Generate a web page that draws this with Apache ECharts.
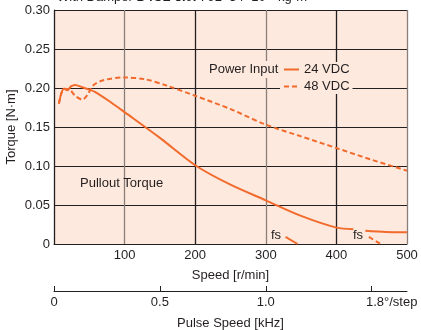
<!DOCTYPE html>
<html>
<head>
<meta charset="utf-8">
<script src="https://cdn.jsdelivr.net/npm/echarts@6/dist/echarts.min.js"></script>
<style>
html, body { margin: 0; padding: 0; background: #fff; }
#chart { width: 421px; height: 330px; }
</style>
</head>
<body>
<div id="chart"></div>
<script>
// values
const speedTicks = [0, 100, 200, 300, 400, 500]
const torqueTicks = [0, 0.05, 0.1, 0.15, 0.2, 0.25, 0.3]
const pulseTicks = [0, 0.5, 1.0, 1.5]
const pulseLabels = ['0', '0.5', '1.0', '1.8°/step']

// [speed r/min, torque N·m]
const torque24 = [
    [7, 0.180], [10, 0.192], [14, 0.199], [19, 0.197], [24, 0.202], [30, 0.204],
    [40, 0.201], [50, 0.198], [58, 0.195], [80, 0.182], [100, 0.169], [150, 0.136],
    [200, 0.101], [250, 0.076], [300, 0.056], [350, 0.036], [400, 0.021], [424, 0.019],
    [432, null],
    [441, 0.017], [470, 0.0155], [500, 0.015]
]
const torque48 = [
    [7, 0.180], [10, 0.192], [14, 0.199], [22, 0.198], [30, 0.190], [40, 0.185],
    [48, 0.192], [55, 0.203], [70, 0.210], [100, 0.2135], [130, 0.211], [160, 0.203],
    [200, 0.190], [250, 0.173], [300, 0.153], [350, 0.138], [400, 0.123], [450, 0.108],
    [500, 0.094]
]
const fs24 = [[328, 0.009], [345, 0]]
const fs48 = [[446, 0.009], [463, 0]]

const FONT = "'Liberation Sans', Arial, sans-serif"
const INK = '#231f20'
const BG = '#fde9dd'
const ORANGE = '#f26b2d'
const DASH = [5, 3]

const chart = echarts.init(document.getElementById('chart'))

const option = {
    animation: false,
    textStyle: { fontFamily: FONT, color: INK },
    grid: [
        { left: 54, right: 14, top: 10, bottom: 86, show: true, backgroundColor: BG, borderWidth: 0, outerBoundsMode: 'none' },
        { left: 54, right: 14, top: 290, height: 1, outerBoundsMode: 'none' }
    ],
    xAxis: [
        {
            type: 'value', gridIndex: 0,
            min: speedTicks[0], max: speedTicks[speedTicks.length - 1], interval: 100,
            name: 'Speed [r/min]', nameLocation: 'middle', nameGap: 25,
            nameTextStyle: { fontSize: 13, color: INK, fontFamily: FONT },
            axisLine: { lineStyle: { color: INK, width: 1 } },
            axisTick: { show: false },
            axisLabel: {
                fontSize: 13, color: INK, margin: 5, fontFamily: FONT,
                formatter: v => (v === 0 ? '' : String(v))
            },
            splitLine: { show: true, lineStyle: { color: [INK, '#8a7f7b'], width: 1.3 } }
        },
        {
            type: 'value', gridIndex: 1,
            min: 0, max: 500 / 300,
            name: 'Pulse Speed [kHz]', nameLocation: 'middle', nameGap: 26,
            nameTextStyle: { fontSize: 13, color: INK, fontFamily: FONT },
            axisLine: { lineStyle: { color: INK, width: 1 } },
            axisTick: { inside: true, length: 5, customValues: pulseTicks, lineStyle: { color: INK } },
            axisLabel: {
                fontSize: 13, color: INK, margin: 5, fontFamily: FONT,
                customValues: pulseTicks,
                formatter: v => {
                    const i = pulseTicks.findIndex(t => Math.abs(t - v) < 1e-6)
                    if (i === 3) return '{s|' + pulseLabels[i] + '}'
                    return i >= 0 ? pulseLabels[i] : ''
                },
                rich: { s: { fontSize: 13, color: INK, fontFamily: FONT, padding: [0, 0, 0, 40] } }
            },
            splitLine: { show: false }
        }
    ],
    yAxis: [
        {
            type: 'value', gridIndex: 0,
            min: torqueTicks[0], max: torqueTicks[torqueTicks.length - 1], interval: 0.05,
            name: 'Torque [N·m]', nameLocation: 'middle', nameGap: 36, nameMoveOverlap: false,
            nameTextStyle: { fontSize: 13, color: INK, fontFamily: FONT },
            axisLine: { show: true, lineStyle: { color: INK, width: 1 } },
            axisTick: { show: false },
            axisLabel: {
                fontSize: 13, color: INK, margin: 4, fontFamily: FONT,
                formatter: v => (v === 0 ? '0' : v.toFixed(2))
            },
            splitLine: { show: true, lineStyle: { color: INK, width: 1 } }
        },
        { type: 'value', gridIndex: 1, show: false }
    ],
    legend: {
        data: ['24 VDC', '48 VDC'],
        orient: 'vertical', left: 280, top: 62,
        itemWidth: 15, itemHeight: 10, itemGap: 4,
        backgroundColor: BG, padding: [1, 3, 1, 3],
        itemStyle: { opacity: 0 },
        textStyle: { fontSize: 13, color: INK, fontFamily: FONT },
        selectedMode: false
    },
    graphic: [
        {
            type: 'text', x: 57, y: -9, silent: true,
            style: {
                text: 'With Damper {b|D4CL-5.0F}: JL=34×10⁻⁷ kg·m²',
                fontSize: 13, fill: INK, fontFamily: FONT,
                rich: { b: { fontSize: 13, fontWeight: 'bold', fill: INK, fontFamily: FONT } }
            }
        },
        {
            type: 'text', x: 207, y: 61, silent: true, z: 10,
            style: {
                text: 'Power Input', fontSize: 13, fill: INK, fontFamily: FONT,
                backgroundColor: BG, padding: [2, 2, 2, 2]
            }
        },
        {
            type: 'text', x: 80, y: 177, silent: true, z: 10,
            style: { text: 'Pullout Torque', fontSize: 13, fill: INK, fontFamily: FONT }
        },
        {
            type: 'text', x: 271, y: 229, silent: true, z: 10,
            style: { text: 'fs', fontSize: 13, fill: INK, fontFamily: FONT }
        },
        {
            type: 'text', x: 353, y: 229, silent: true, z: 10,
            style: { text: 'fs', fontSize: 13, fill: INK, fontFamily: FONT }
        }
    ],
    series: [
        {
            name: '24 VDC', type: 'line', xAxisIndex: 0, yAxisIndex: 0,
            data: torque24, smooth: 0.3, symbol: 'none', connectNulls: false,
            lineStyle: { color: ORANGE, width: 2 }, itemStyle: { color: ORANGE }
        },
        {
            name: '48 VDC', type: 'line', xAxisIndex: 0, yAxisIndex: 0,
            data: torque48, smooth: 0.3, symbol: 'none',
            lineStyle: { color: ORANGE, width: 2, type: DASH }, itemStyle: { color: ORANGE }
        },
        {
            name: 'fs 24', type: 'line', xAxisIndex: 0, yAxisIndex: 0,
            data: fs24, symbol: 'none',
            lineStyle: { color: ORANGE, width: 2 }
        },
        {
            name: 'fs 48', type: 'line', xAxisIndex: 0, yAxisIndex: 0,
            data: fs48, symbol: 'none',
            lineStyle: { color: ORANGE, width: 2, type: DASH }
        }
    ]
}

chart.setOption(option)
</script>
</body>
</html>
